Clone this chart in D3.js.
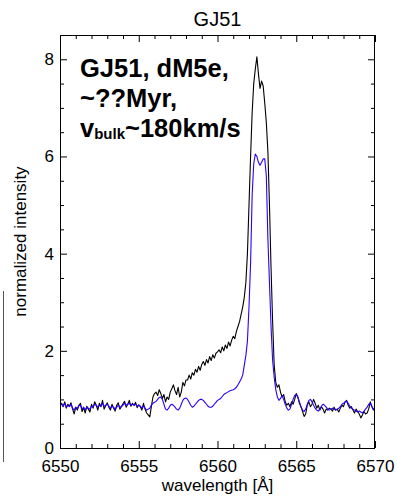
<!DOCTYPE html>
<html>
<head>
<meta charset="utf-8">
<script src="https://cdn.jsdelivr.net/npm/d3@7"></script>
<style>
  html, body { margin: 0; padding: 0; background: #fff; }
  svg { display: block; }
  text { font-family: "Liberation Sans", Arial, Helvetica, sans-serif; }
</style>
</head>
<body>
<svg id="chart" width="397" height="497"></svg>
<script>
// ---- data ----
const titleText = "GJ51";
const xLabel = "wavelength [Å]";
const yLabel = "normalized intensity";
const xTicks = [6550, 6555, 6560, 6565, 6570];
const yTicks = [0, 2, 4, 6, 8];
const xDomain = [6550, 6570];
const yDomain = [0, 8.5];
const waveStart = 6550.0;
const waveStep = 0.1;

// observed spectrum (black), 6550.0 .. 6570.0 step 0.1
const observed = [
  0.88,
  0.92,0.85,0.95,0.82,0.90,0.86,0.93,0.80,0.70,0.84,
  0.78,0.88,0.92,0.75,0.83,0.72,0.86,0.80,0.74,0.90,
  0.82,0.95,0.88,0.78,0.92,0.85,0.98,0.80,0.87,0.93,
  0.84,0.78,0.90,0.82,0.76,0.88,0.93,0.80,0.85,0.91,
  0.96,0.84,0.90,0.98,0.86,0.92,0.88,0.94,0.83,0.89,
  0.85,0.78,0.92,0.80,0.72,0.68,0.64,0.85,1.05,1.12,
  1.15,1.08,1.20,1.12,1.02,1.10,0.95,1.05,1.00,1.15,
  1.22,1.30,1.18,1.10,1.25,1.05,1.15,1.35,1.28,1.40,
  1.40,1.50,1.42,1.55,1.50,1.62,1.56,1.68,1.60,1.72,
  1.78,1.70,1.82,1.75,1.88,1.80,1.92,1.85,1.95,1.98,
  2.02,1.96,2.08,2.00,2.12,2.05,2.18,2.10,2.22,2.30,
  2.25,2.40,2.50,2.60,2.75,2.90,3.10,3.40,4.00,5.00,
  6.00,6.90,7.50,7.80,8.05,7.70,7.40,7.55,7.45,7.10,
  6.70,6.10,5.00,3.70,2.60,1.70,1.35,1.25,1.30,1.15,
  1.05,1.10,0.95,0.88,0.92,0.85,0.95,0.90,1.00,1.12,
  1.05,0.92,0.85,0.75,0.65,0.70,0.88,0.95,0.85,0.90,
  1.00,0.92,0.82,0.88,0.78,0.85,0.80,0.72,0.80,0.78,
  0.82,0.80,0.76,0.84,0.78,0.80,0.74,0.82,0.88,0.85,
  0.95,0.98,0.88,0.82,0.85,0.78,0.72,0.80,0.75,0.70,
  0.62,0.68,0.75,0.70,0.72,0.80,0.95,0.85,0.78,0.82
];

// model / comparison profile (blue), same grid
const model = [
  0.88,
  0.90,0.86,0.92,0.84,0.88,0.85,0.90,0.82,0.78,0.84,
  0.82,0.87,0.88,0.80,0.84,0.78,0.84,0.82,0.80,0.86,
  0.85,0.90,0.88,0.84,0.88,0.86,0.92,0.86,0.88,0.90,
  0.86,0.82,0.86,0.84,0.80,0.84,0.88,0.84,0.86,0.88,
  0.92,0.88,0.90,0.92,0.88,0.90,0.88,0.90,0.86,0.88,
  0.86,0.82,0.86,0.82,0.78,0.80,0.82,0.88,0.92,0.94,
  0.96,1.00,1.04,1.05,1.00,0.90,0.80,0.78,0.82,0.88,
  0.90,0.88,0.84,0.80,0.78,0.82,0.90,0.98,1.02,1.03,
  1.00,0.94,0.88,0.84,0.86,0.90,0.94,0.98,1.00,1.00,
  0.98,0.94,0.90,0.86,0.84,0.84,0.86,0.90,0.94,0.98,
  1.00,1.02,1.06,1.10,1.12,1.14,1.16,1.18,1.19,1.20,
  1.22,1.25,1.30,1.36,1.42,1.50,1.70,1.90,2.20,2.90,
  3.80,5.20,5.85,6.05,6.00,5.88,5.82,5.88,5.95,5.95,
  5.60,4.30,3.40,2.50,1.80,1.45,1.20,1.05,0.98,1.02,
  1.08,1.00,0.90,0.82,0.78,0.80,0.90,1.00,1.08,1.10,
  1.05,0.95,0.85,0.78,0.75,0.80,0.90,0.98,1.00,0.95,
  0.88,0.82,0.78,0.76,0.80,0.86,0.90,0.88,0.84,0.80,
  0.78,0.80,0.82,0.80,0.78,0.80,0.82,0.85,0.90,0.92,
  0.95,0.96,0.92,0.86,0.82,0.80,0.78,0.76,0.74,0.76,
  0.74,0.72,0.76,0.80,0.84,0.90,0.92,0.86,0.80,0.82
];

const noteLines = ["GJ51, dM5e,", "~??Myr,"];
const noteV = { main: "v", sub: "bulk", rest: "~180km/s" };

// ---- layout ----
const svg = d3.select("#chart");
const pL = 60, pR = 375, pT = 35, pB = 448;

const x = d3.scaleLinear().domain(xDomain).range([pL, pR]);
const y = d3.scaleLinear().domain(yDomain).range([pB, pT]);

const obsPts = observed.map((v, i) => [waveStart + i * waveStep, v]);
const modPts = model.map((v, i) => [waveStart + i * waveStep, v]);

const lineGen = d3.line().x(d => x(d[0])).y(d => y(d[1]));

svg.append("clipPath").attr("id", "clip")
  .append("rect").attr("x", pL).attr("y", pT)
  .attr("width", pR - pL).attr("height", pB - pT);

const plot = svg.append("g").attr("clip-path", "url(#clip)");
plot.append("path").datum(obsPts).attr("d", lineGen)
  .attr("fill", "none").attr("stroke", "#000").attr("stroke-width", 1.1)
  .attr("stroke-linejoin", "round");
plot.append("path").datum(modPts).attr("d", lineGen)
  .attr("fill", "none").attr("stroke", "#2a00ff").attr("stroke-width", 1.1)
  .attr("stroke-linejoin", "round");

const fs = 17;
const majorLen = 7, minorLen = 4;
const xMinor = d3.range(xDomain[0], xDomain[1] + 0.001, 1).filter(v => !xTicks.includes(v));
const yMinor = d3.range(0, yDomain[1] + 0.001, 0.5).filter(v => !yTicks.includes(v));

function styleAxis(g) {
  g.select(".domain").remove();
  g.selectAll(".tick line").attr("stroke", "#000").attr("stroke-width", 1);
  g.selectAll("text").attr("font-size", fs).attr("fill", "#000")
    .style("font-family", "'Liberation Sans', Arial, sans-serif");
}

svg.append("g").attr("transform", `translate(0,${pB})`)
  .call(d3.axisBottom(x).tickValues(xTicks).tickFormat(d3.format("d"))
    .tickSizeInner(-majorLen).tickSizeOuter(0).tickPadding(majorLen + 5))
  .call(styleAxis);
svg.append("g").attr("transform", `translate(0,${pB})`)
  .call(d3.axisBottom(x).tickValues(xMinor).tickFormat("")
    .tickSizeInner(-minorLen).tickSizeOuter(0))
  .call(styleAxis);
svg.append("g").attr("transform", `translate(0,${pT})`)
  .call(d3.axisTop(x).tickValues(xTicks).tickFormat("")
    .tickSizeInner(-majorLen).tickSizeOuter(0))
  .call(styleAxis);
svg.append("g").attr("transform", `translate(0,${pT})`)
  .call(d3.axisTop(x).tickValues(xMinor).tickFormat("")
    .tickSizeInner(-minorLen).tickSizeOuter(0))
  .call(styleAxis);
svg.append("g").attr("transform", `translate(${pL},0)`)
  .call(d3.axisLeft(y).tickValues(yTicks).tickFormat(d3.format("d"))
    .tickSizeInner(-majorLen).tickSizeOuter(0).tickPadding(6))
  .call(styleAxis);
svg.append("g").attr("transform", `translate(${pL},0)`)
  .call(d3.axisLeft(y).tickValues(yMinor).tickFormat("")
    .tickSizeInner(-minorLen).tickSizeOuter(0))
  .call(styleAxis);
svg.append("g").attr("transform", `translate(${pR},0)`)
  .call(d3.axisRight(y).tickValues(yTicks).tickFormat("")
    .tickSizeInner(-majorLen).tickSizeOuter(0))
  .call(styleAxis);
svg.append("g").attr("transform", `translate(${pR},0)`)
  .call(d3.axisRight(y).tickValues(yMinor).tickFormat("")
    .tickSizeInner(-minorLen).tickSizeOuter(0))
  .call(styleAxis);

svg.append("rect").attr("x", pL + 0.5).attr("y", pT + 0.5)
  .attr("width", pR - pL - 1).attr("height", pB - pT)
  .attr("fill", "none").attr("stroke", "#000").attr("stroke-width", 1);

svg.append("text").attr("x", (pL + pR) / 2).attr("y", 26)
  .attr("text-anchor", "middle").attr("font-size", 20).text(titleText);
svg.append("text").attr("x", (pL + pR) / 2).attr("y", 491)
  .attr("text-anchor", "middle").attr("font-size", fs).text(xLabel);
svg.append("text").attr("transform", `translate(26,${(pT + pB) / 2}) rotate(-90)`)
  .attr("text-anchor", "middle").attr("font-size", fs).text(yLabel);

const noteX = 80;
noteLines.forEach((t, i) => {
  svg.append("text").attr("x", noteX).attr("y", 77 + i * 30)
    .attr("font-size", 25.5).attr("font-weight", "bold").text(t);
});
const vt = svg.append("text").attr("x", noteX).attr("y", 137)
  .attr("font-size", 25.5).attr("font-weight", "bold");
vt.append("tspan").text(noteV.main);
vt.append("tspan").attr("font-size", 15).attr("dy", 2).text(noteV.sub);
vt.append("tspan").attr("dy", -2).text(noteV.rest);

svg.append("line").attr("x1", 3.5).attr("x2", 3.5).attr("y1", 291).attr("y2", 462)
  .attr("stroke", "#555").attr("stroke-width", 1);
</script>
</body>
</html>
